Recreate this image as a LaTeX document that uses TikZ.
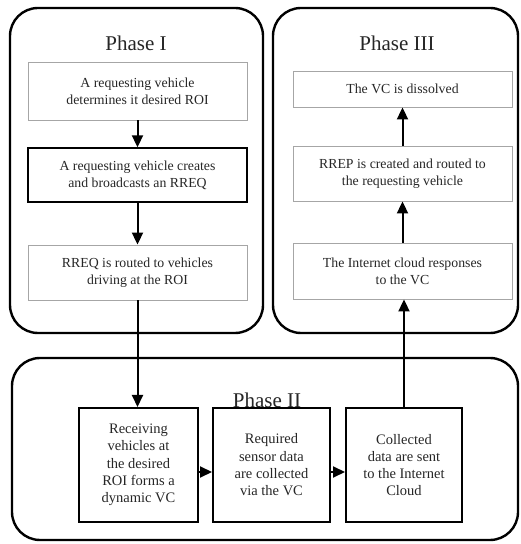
\documentclass[tikz,border=0pt]{standalone}
\usepackage{fontspec}
\setmainfont{Liberation Serif}
\usetikzlibrary{arrows.meta, positioning}

\begin{document}
\begin{tikzpicture}[x=1pt, y=1pt,
    phase/.style={draw, line width=2.4pt, rounded corners=28pt},
    title/.style={font=\fontsize{21}{25}\selectfont, text=black!85},
    stepbox/.style={draw=gray!70, line width=0.9pt, minimum width=219pt, align=center,
                    font=\fontsize{13.8}{17}\selectfont, text=black!85},
    vcbox/.style={draw, line width=2pt, minimum height=114pt, align=center,
                  font=\fontsize{14.5}{17.3}\selectfont, text=black!85},
    flow/.style={-{Triangle[length=12pt, width=11pt]}, line width=2pt}]
    \useasboundingbox (0,0) rectangle (520,544);

    % Phase I
    \draw[phase] (10,536) rectangle (263,211);
    \node[title] (t1) at (136,501) {Phase I};
    \node[stepbox, minimum height=58pt] (p1a) at (137.5,453) {A requesting vehicle\\determines it desired ROI};
    \node[stepbox, minimum height=54pt, draw=black, line width=1.4pt] (p1b) at (137.5,369) {A requesting vehicle creates\\and broadcasts an RREQ};
    \node[stepbox, minimum height=55pt] (p1c) at (137.5,271.5) {RREQ is routed to vehicles\\driving at the ROI};

    % Phase III
    \draw[phase] (273,536) rectangle (518,211);
    \node[title] (t3) at (397,501) {Phase III};
    \node[stepbox, minimum height=36pt] (p3a) at (402.5,455) {The VC is dissolved};
    \node[stepbox, minimum height=55pt] (p3b) at (402.5,370.5) {RREP is created and routed to\\the requesting vehicle};
    \node[stepbox, minimum height=56pt] (p3c) at (402.5,273) {The Internet cloud responses\\to the VC};

    % Phase II
    \draw[phase] (12,186) rectangle (518,4);
    \node[title] (t2) at (267,144) {Phase II};
    \node[vcbox, minimum width=119pt] (vA) at (138.5,79) {Receiving\\vehicles at\\the desired\\ROI forms a\\dynamic VC};
    \node[vcbox, minimum width=117pt] (vB) at (271.5,79) {Required\\sensor data\\are collected\\via the VC};
    \node[vcbox, minimum width=116pt] (vC) at (404,79) {Collected\\data are sent\\to the Internet\\Cloud};

    % connectors
    \draw[flow] (p1a) -- (p1b);
    \draw[flow] (p1b) -- (p1c);
    \draw[flow] (p1c.south) -- (p1c.south |- vA.north);
    \draw[flow] ([yshift=-7pt]vA.east) -- ([yshift=-7pt]vB.west);
    \draw[flow] ([yshift=-7pt]vB.east) -- ([yshift=-7pt]vC.west);
    \draw[flow] (vC.north) -- (vC.north |- p3c.south);
    \draw[flow] (p3c) -- (p3b);
    \draw[flow] (p3b) -- (p3a);
\end{tikzpicture}
\end{document}
